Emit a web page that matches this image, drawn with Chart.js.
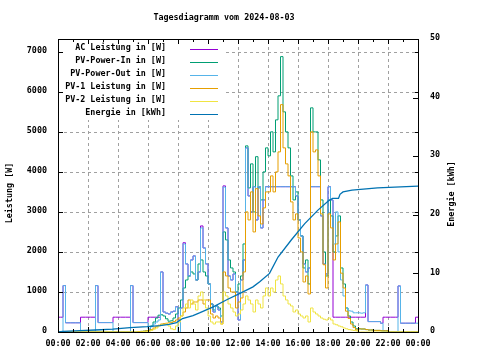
<!DOCTYPE html>
<html>
<head>
<meta charset="utf-8">
<script src="https://cdn.jsdelivr.net/npm/chart.js@4.4.1/dist/chart.umd.min.js"></script>
<style>
  html, body { margin: 0; padding: 0; background: #fff; }
  canvas { display: block; }
</style>
</head>
<body>
<canvas id="chart" width="480" height="360"></canvas>
<script>
// Tagesdiagramm, values read per 10 minutes (00:00 .. 24:00, 145 slots)
const chartTitle = 'Tagesdiagramm vom 2024-08-03';
const leftTitle = 'Leistung [W]';
const rightTitle = 'Energie [kWh]';

const hourTicks = ['00:00', '02:00', '04:00', '06:00', '08:00', '10:00', '12:00',
  '14:00', '16:00', '18:00', '20:00', '22:00', '00:00'];
const powerTicks = [0, 1000, 2000, 3000, 4000, 5000, 6000, 7000];
const energyTicks = [0, 10, 20, 30, 40, 50];

const seriesNames = ['AC Leistung in [W]', 'PV-Power-In in [W]', 'PV-Power-Out in [W]',
  'PV-1 Leistung in [W]', 'PV-2 Leistung in [W]', 'Energie in [kWh]'];

const acPower = [
  370, 370, 1160, 230, 230, 230,
  230, 230, 230, 370, 370, 370,
  370, 370, 370, 1160, 235, 235,
  235, 235, 235, 235, 370, 370,
  370, 370, 370, 370, 370, 1160,
  235, 235, 235, 235, 235, 235,
  370, 370, 370, 370, 370, 1500,
  500, 470, 450, 500, 520, 630,
  300, 600, 2230, 1700, 1400, 1800,
  1900, 1300, 1500, 2650, 2100, 1700,
  1200, 700, 500, 650, 550, 250,
  3650, 2600, 1400, 1300, 1450, 1000,
  300, 1300, 1800, 4600, 3400, 3000,
  3630, 2800, 3630, 2600, 3300, 3630,
  3630, 3630, 3630, 3630, 3630, 3630,
  3630, 3630, 3630, 3630, 3630, 3400,
  2800, 2400, 1700, 1500, 1600, 3630,
  3630, 3630, 3630, 2900, 1700, 1450,
  3630, 3300, 370, 370, 370, 370,
  370, 370, 370, 370, 370, 370,
  370, 370, 370, 1175, 260, 260,
  260, 260, 260, 220, 370, 370,
  370, 370, 370, 370, 1150, 220,
  220, 220, 220, 220, 220, 370,
  370
];

const pvPowerIn = [
  0, 0, 0, 0, 0, 0,
  0, 0, 0, 0, 0, 0,
  0, 0, 0, 0, 0, 0,
  0, 0, 0, 0, 0, 0,
  0, 0, 0, 0, 0, 0,
  0, 0, 10, 15, 20, 30,
  50, 150, 250, 350, 420, 430,
  400, 330, 270, 280, 350, 450,
  600, 800, 1100, 1300, 1400, 1500,
  1450, 1300, 1700, 1800, 1500, 1400,
  1200, 700, 550, 650, 600, 400,
  2500, 2300, 1800, 1600, 1500, 1000,
  1200, 1400, 2200, 4650, 3600, 4200,
  3000, 4380, 3600, 3300, 4000, 4600,
  4400, 5000, 4500, 5300, 5900, 6880,
  5500, 5000, 4600, 3900, 3300, 3500,
  2800, 2400, 1600, 1800, 1200, 5600,
  5000, 5000, 4300, 3300, 2000, 1400,
  3300, 2900, 2000, 2400, 2900, 1600,
  1200, 600, 400, 250, 150, 80,
  80, 75, 75, 60, 50, 50,
  40, 40, 40, 30, 30, 30,
  0, 0, 0, 0, 0, 0,
  0, 0, 0, 0, 0, 0,
  0
];

const pvPowerOut = [
  0, 0, 1160, 230, 230, 230,
  230, 230, 230, 0, 0, 0,
  0, 0, 0, 1160, 235, 235,
  235, 235, 235, 235, 0, 0,
  0, 0, 0, 0, 0, 1160,
  235, 235, 235, 235, 235, 235,
  80, 130, 200, 250, 300, 1500,
  500, 470, 450, 500, 520, 630,
  0, 600, 2200, 1700, 1400, 1800,
  1900, 1300, 1500, 2600, 2100, 1700,
  1200, 700, 500, 650, 550, 250,
  3620, 2600, 1400, 1300, 1450, 1000,
  300, 1300, 1800, 4600, 3400, 3000,
  3630, 2800, 3630, 2600, 3300, 3630,
  3630, 3630, 3630, 3630, 3630, 3630,
  3630, 3630, 3630, 3630, 3630, 3400,
  2800, 2400, 1700, 1500, 1600, 3630,
  3630, 3630, 3630, 2900, 1700, 1450,
  3630, 3300, 2200, 3000, 2000, 1300,
  900, 600, 530, 520, 480, 480,
  480, 470, 480, 1175, 260, 260,
  260, 260, 260, 220, 0, 0,
  0, 0, 0, 0, 1150, 220,
  220, 220, 220, 220, 220, 220,
  220
];

const pv1Power = [
  0, 0, 0, 0, 0, 0,
  0, 0, 0, 0, 0, 0,
  0, 0, 0, 0, 0, 0,
  0, 0, 0, 0, 0, 0,
  0, 0, 0, 0, 0, 0,
  0, 0, 10, 15, 20, 30,
  40, 60, 100, 130, 170, 200,
  210, 220, 230, 240, 260, 300,
  350, 400, 500, 600, 800, 700,
  750, 750, 800, 800, 700, 800,
  800, 450, 350, 400, 350, 200,
  1500, 1400, 1100, 1000, 1000, 600,
  750, 850, 1500, 3000, 2800, 3500,
  2500, 3580, 2900, 2700, 3100, 3500,
  3500, 3900, 3500, 4000, 4500, 5680,
  4600, 4200, 3900, 3250, 2800, 2950,
  2350, 2000, 1250, 1400, 950, 5000,
  4500, 4550, 3900, 2950, 1680, 1100,
  2950, 2600, 1800, 2200, 2750, 1470,
  1100, 520, 340, 200, 110, 50,
  80, 75, 75, 60, 50, 50,
  40, 40, 40, 30, 30, 30,
  0, 0, 0, 0, 0, 0,
  0, 0, 0, 0, 0, 0,
  0
];

const pv2Power = [
  0, 0, 0, 0, 0, 0,
  0, 0, 0, 0, 0, 0,
  0, 0, 0, 0, 0, 0,
  0, 0, 0, 0, 0, 0,
  0, 0, 0, 0, 0, 0,
  0, 0, 0, 5, 10, 15,
  20, 40, 70, 100, 150, 180,
  190, 200, 150, 80, 60, 150,
  250, 400, 600, 700, 600, 800,
  700, 550, 900, 1000, 800, 600,
  400, 250, 200, 250, 250, 200,
  1000, 900, 700, 600, 500, 400,
  450, 550, 700, 900, 800, 700,
  500, 800, 700, 600, 900, 1100,
  900, 1100, 1000, 1300, 1400, 1200,
  900, 800, 700, 650, 500, 550,
  450, 400, 350, 400, 250, 600,
  500, 450, 400, 350, 320, 300,
  350, 300, 200, 180, 150, 130,
  100, 80, 60, 50, 40, 30,
  0, 0, 0, 0, 0, 0,
  0, 0, 0, 0, 0, 0,
  0, 0, 0, 0, 0, 0,
  0, 0, 0, 0, 0, 0,
  0
];

const energyHours = [0, 0.35, 1.45, 2.5, 3.65, 4.8, 5.95, 6.8, 7.4, 7.9, 8.3, 9.0, 9.47,
  10.35, 11.25, 12.13, 13.0, 13.47, 14.1, 14.67, 15.55, 16.45, 17.33, 18.0, 18.3, 18.7,
  18.8, 19.0, 19.6, 21.3, 24];
const energyKwh = [0, 0.1, 0.22, 0.34, 0.5, 0.73, 0.9, 1.1, 1.3, 1.6, 2.3, 2.8, 3.3,
  4.3, 5.5, 6.6, 7.7, 8.6, 10, 12.8, 15.7, 18.5, 20.8, 22.3, 22.8, 22.8,
  23.5, 23.9, 24.2, 24.6, 24.9];

const colors = ['#9400d3', '#009e73', '#56b4e9', '#e69f00', '#f0e442', '#0072b2'];
const FONT = 'bold 8.4px "DejaVu Sans Mono"';
const GRID = '#a0a0a0';

const slotHours = acPower.map((v, i) => i / 6);
const toPoints = values => values.map((v, i) => ({ x: slotHours[i], y: v }));

const powerSeries = [acPower, pvPowerIn, pvPowerOut, pv1Power, pv2Power];
const datasets = powerSeries.map((values, i) => ({
  label: seriesNames[i],
  data: toPoints(values),
  borderColor: colors[i],
  borderWidth: 1,
  pointRadius: 0,
  stepped: true,
  yAxisID: 'y',
  order: 6 - i
}));
datasets.push({
  label: seriesNames[5],
  data: energyHours.map((h, i) => ({ x: h, y: energyKwh[i] })),
  borderColor: colors[5],
  borderWidth: 1.3,
  pointRadius: 0,
  yAxisID: 'y2',
  order: 0
});

// dashed grid behind the data, taken from the scales; the key box hides it
const grid = {
  id: 'grid',
  beforeDatasetsDraw(chart) {
    const { ctx, chartArea: a, scales } = chart;
    ctx.save();
    ctx.strokeStyle = GRID;
    ctx.lineWidth = 1;
    ctx.setLineDash([3, 3]);
    ctx.beginPath();
    hourTicks.forEach((t, i) => {
      const px = Math.round(scales.x.getPixelForValue(i * 2)) + 0.5;
      ctx.moveTo(px, a.bottom); ctx.lineTo(px, a.top);
    });
    powerTicks.forEach(v => {
      const py = Math.round(scales.y.getPixelForValue(v)) + 0.5;
      ctx.moveTo(a.left, py); ctx.lineTo(a.right, py);
    });
    ctx.stroke();
    ctx.fillStyle = '#fff';
    ctx.fillRect(a.left + 1, a.top + 1, 166, 80);
    ctx.restore();
  }
};

// gnuplot style frame: border, inward ticks, labels, key
const frame = {
  id: 'frame',
  afterDraw(chart) {
    const { ctx, chartArea: a, scales } = chart;
    const { x, y, y2 } = scales;
    ctx.save();
    ctx.strokeStyle = '#000';
    ctx.lineWidth = 1;
    ctx.strokeRect(a.left + 0.5, a.top + 0.5, a.right - a.left, a.bottom - a.top);

    ctx.beginPath();
    for (let h = 0; h <= 24; h++) {
      const px = Math.round(x.getPixelForValue(h)) + 0.5;
      const len = h % 2 === 0 ? 5 : 3;
      ctx.moveTo(px, a.bottom); ctx.lineTo(px, a.bottom - len);
      ctx.moveTo(px, a.top); ctx.lineTo(px, a.top + len);
    }
    powerTicks.forEach(v => {
      const py = Math.round(y.getPixelForValue(v)) + 0.5;
      ctx.moveTo(a.left, py); ctx.lineTo(a.left + 5, py);
      ctx.moveTo(a.right, py); ctx.lineTo(a.right - 3, py);
    });
    energyTicks.forEach(v => {
      const py = Math.round(y2.getPixelForValue(v)) + 0.5;
      ctx.moveTo(a.right, py); ctx.lineTo(a.right - 5, py);
    });
    ctx.stroke();

    ctx.fillStyle = '#000';
    ctx.font = FONT;
    ctx.textBaseline = 'middle';
    ctx.textAlign = 'center';
    ctx.fillText(chartTitle, 224, 18);
    hourTicks.forEach((t, i) => ctx.fillText(t, x.getPixelForValue(i * 2), 344));
    ctx.textAlign = 'right';
    powerTicks.forEach(v => ctx.fillText(String(v), 47, y.getPixelForValue(v) - 1));
    ctx.textAlign = 'left';
    energyTicks.forEach(v => ctx.fillText(String(v), 430, y2.getPixelForValue(v) - 1));

    ctx.textAlign = 'center';
    ctx.save();
    ctx.translate(10, 193); ctx.rotate(-Math.PI / 2);
    ctx.fillText(leftTitle, 0, 0);
    ctx.restore();
    ctx.save();
    ctx.translate(452, 194); ctx.rotate(-Math.PI / 2);
    ctx.fillText(rightTitle, 0, 0);
    ctx.restore();

    // key
    ctx.textAlign = 'right';
    seriesNames.forEach((name, i) => {
      const ty = 47.7 + i * 12.95;
      ctx.fillStyle = '#000';
      ctx.fillText(name, 166, ty);
      ctx.strokeStyle = colors[i];
      ctx.beginPath();
      ctx.moveTo(190, Math.round(ty + 1.5) + 0.5);
      ctx.lineTo(218, Math.round(ty + 1.5) + 0.5);
      ctx.stroke();
    });
    ctx.restore();
  }
};

new Chart(document.getElementById('chart'), {
  type: 'line',
  data: { datasets },
  options: {
    responsive: false,
    devicePixelRatio: 1,
    animation: false,
    events: [],
    layout: { padding: { top: 39, left: 0, right: 0, bottom: 0 } },
    plugins: { legend: { display: false }, tooltip: { enabled: false } },
    scales: {
      x: {
        type: 'linear', min: 0, max: 24,
        ticks: { display: false, stepSize: 2 },
        grid: { display: false, drawTicks: false },
        border: { display: false },
        afterFit: s => { s.height = 28; }
      },
      y: {
        position: 'left', min: 0, max: 7320, bounds: 'data',
        ticks: { display: false, stepSize: 1000 },
        grid: { display: false, drawTicks: false },
        border: { display: false },
        afterFit: s => { s.width = 58; }
      },
      y2: {
        position: 'right', min: 0, max: 50, bounds: 'data',
        ticks: { display: false, stepSize: 10 },
        grid: { display: false, drawTicks: false },
        border: { display: false },
        afterFit: s => { s.width = 62; }
      }
    }
  },
  plugins: [grid, frame]
});
</script>
</body>
</html>
